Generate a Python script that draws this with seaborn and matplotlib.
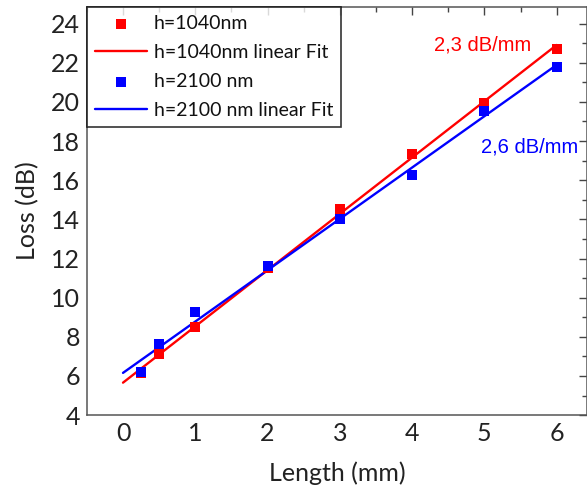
import matplotlib
matplotlib.use("Agg")
import matplotlib.pyplot as plt
import numpy as np
import pandas as pd
import seaborn as sns
from matplotlib.ticker import MultipleLocator

length_mm = [0.25, 0.5, 1, 2, 3, 4, 5, 6]
loss_1040 = [6.15, 7.1, 8.5, 11.5, 14.55, 17.35, 19.95, 22.7]
loss_2100 = [6.2, 7.65, 9.25, 11.6, 14.0, 16.25, 19.55, 21.8]
fit_x = [0, 6]

labels = ["h=1040nm", "h=1040nm linear Fit", "h=2100 nm", "h=2100 nm linear Fit"]
slopes_text = ["2,3 dB/mm", "2,6 dB/mm"]
colors = ["#ff0000", "#0000ff"]

sns.set_theme(style="white")
plt.rcParams["font.family"] = ["Lato", "DejaVu Sans"]

fig = plt.figure(figsize=(5.87, 4.96), dpi=100)
ax = fig.add_axes([0.148, 0.163, 0.852, 0.823])

for loss, col, lab_pts, lab_fit in [
    (loss_1040, colors[0], labels[0], labels[1]),
    (loss_2100, colors[1], labels[2], labels[3]),
]:
    df = pd.DataFrame({"x": length_mm, "y": loss})
    sns.scatterplot(data=df, x="x", y="y", marker="s", s=60, color=col,
                    linewidth=0, ax=ax, label=lab_pts, zorder=3)
    # linear fit of the measured points
    k, b = np.polyfit(length_mm, loss, 1)
    fx = np.array(fit_x, dtype=float)
    fit = pd.DataFrame({"x": fx, "y": k * fx + b})
    sns.lineplot(data=fit, x="x", y="y", color=col, linewidth=1.7, ax=ax,
                 label=lab_fit, zorder=2)

ax.text(4.97, 22.9, slopes_text[0], color=colors[0], fontsize=14.5,
        family="Liberation Sans", ha="center", va="center")
ax.text(5.62, 17.7, slopes_text[1], color=colors[1], fontsize=14.5,
        family="Liberation Sans", ha="center", va="center")

ax.set_xlim(-0.5, 6.42)
ax.set_ylim(4, 24.85)
ax.xaxis.set_major_locator(MultipleLocator(1))
ax.xaxis.set_minor_locator(MultipleLocator(0.5))
ax.yaxis.set_major_locator(MultipleLocator(2))
ax.yaxis.set_minor_locator(MultipleLocator(1))
ax.tick_params(which="both", direction="in", top=True, right=True,
               labeltop=False, labelright=False, colors="#444444",
               labelcolor="#222222", labelsize=18, width=1)
ax.tick_params(which="major", length=6, pad=5)
ax.tick_params(which="minor", length=3.5)
for s in ax.spines.values():
    s.set_color("#555555")
    s.set_linewidth(1.1)

ax.set_xlabel("Length (mm)", fontsize=18, color="#222222", labelpad=12)
ax.set_ylabel("Loss (dB)", fontsize=18, color="#222222", labelpad=8)

leg = ax.legend(loc="upper left", fontsize=14, frameon=True, fancybox=False,
                borderaxespad=0, handlelength=2.7, handletextpad=0.35,
                labelspacing=0.62, borderpad=0.4)
leg.get_frame().set_edgecolor("black")
leg.get_frame().set_linewidth(1.2)
for t in leg.get_texts():
    t.set_color("#111111")

fig.savefig("out.png", dpi=100)
